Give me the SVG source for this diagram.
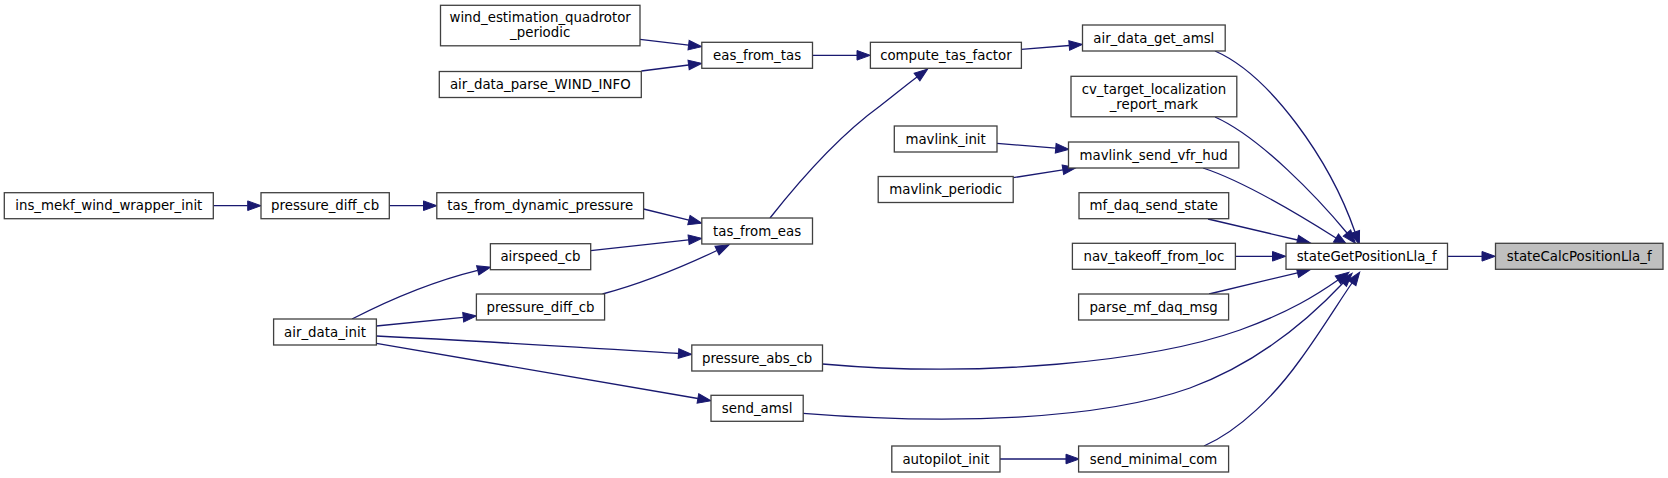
<svg xmlns="http://www.w3.org/2000/svg" width="1668" height="478" viewBox="0 0 1668 478">
<style>
.n rect{fill:#ffffff;stroke:#404040;stroke-width:1.3}
.n.root rect{fill:#bfbfbf}
.n text{font-family:"DejaVu Sans","Liberation Sans",sans-serif;font-size:13.33px;fill:#000;text-anchor:middle}
.e path{fill:none;stroke:#191970;stroke-width:1.3;marker-end:url(#ah)}
</style>
<defs>
<marker id="ah" markerUnits="userSpaceOnUse" markerWidth="14" markerHeight="12" refX="0" refY="0" viewBox="0 -6 14 12" orient="auto" overflow="visible">
<path d="M0,-4.8 L13.3,0 L0,4.8 Z" fill="#191970" stroke="#191970" stroke-width="1"/>
</marker>
</defs>
<rect width="1668" height="478" fill="#ffffff"/>
<g id="edges" class="e">
<path d="M1448,256.3 L1482,256.3"/>
<path d="M1215,51 C1270,75 1330,160 1355,232"/>
<path d="M1215,117 C1260,137 1318,198 1347,233"/>
<path d="M1203,168 C1240,180 1298,214 1336,238"/>
<path d="M1208,219 L1297.5,240"/>
<path d="M1235.5,256.3 L1272.5,256.3"/>
<path d="M1209,294 L1297.5,272.8"/>
<path d="M822.5,364 C980,378 1150,362 1240,330 C1290,312 1318,294 1338,280"/>
<path d="M803.2,413.3 C950,425 1100,420 1190,388 C1260,362 1312,316 1343,283"/>
<path d="M1204,446 C1240,430 1275,395 1300,360 C1322,330 1340,300 1352,283"/>
<path d="M1021.4,49.3 L1069.2,45.5"/>
<path d="M997,143.3 L1055.7,148.2"/>
<path d="M1013.2,177.7 L1062.9,169.8"/>
<path d="M1000,459 L1066,459"/>
<path d="M812.5,55.3 L857,55.3"/>
<path d="M770,218 C800,180 840,135 880,106 C893,96 905,86 917,77"/>
<path d="M376.4,336 C480,341 590,348 678.5,353.5"/>
<path d="M376.4,343.3 L697.9,398.5"/>
<path d="M640,39.3 L688.6,45.1"/>
<path d="M641.4,71 L688.6,65"/>
<path d="M643.6,209 L688.9,220.1"/>
<path d="M590.7,250.7 L688.6,239.8"/>
<path d="M602.5,294 C640,284 680,268 717,250.5"/>
<path d="M352,319 C385,302 430,282 477.7,270.3"/>
<path d="M376.4,326 L463.2,317.3"/>
<path d="M389.3,205.7 L423.5,205.7"/>
<path d="M213.3,205.7 L247.7,205.7"/>
</g>
<g id="stateCalcPositionLla_f" class="n root"><rect x="1495.5" y="243.3" width="167.5" height="26"/><text x="1579.2" y="261">stateCalcPositionLla_f</text></g>
<g id="stateGetPositionLla_f" class="n"><rect x="1286" y="243.3" width="161.5" height="26"/><text x="1366.7" y="261">stateGetPositionLla_f</text></g>
<g id="air_data_get_amsl" class="n"><rect x="1082.5" y="25" width="142.7" height="26"/><text x="1153.8" y="42.7">air_data_get_amsl</text></g>
<g id="cv_target_localization_report_mark" class="n"><rect x="1071" y="76.3" width="165.8" height="40.5"/><text x="1153.9" y="93.7">cv_target_localization</text><text x="1153.9" y="108.7">_report_mark</text></g>
<g id="mavlink_send_vfr_hud" class="n"><rect x="1068.5" y="142" width="170.3" height="26"/><text x="1153.6" y="159.7">mavlink_send_vfr_hud</text></g>
<g id="mf_daq_send_state" class="n"><rect x="1079" y="192.7" width="149.7" height="26"/><text x="1153.8" y="210.4">mf_daq_send_state</text></g>
<g id="nav_takeoff_from_loc" class="n"><rect x="1072.4" y="243.3" width="163" height="26"/><text x="1153.9" y="261">nav_takeoff_from_loc</text></g>
<g id="parse_mf_daq_msg" class="n"><rect x="1078.6" y="294" width="150" height="26"/><text x="1153.6" y="311.7">parse_mf_daq_msg</text></g>
<g id="send_minimal_com" class="n"><rect x="1078.6" y="446" width="150" height="26"/><text x="1153.6" y="463.7">send_minimal_com</text></g>
<g id="compute_tas_factor" class="n"><rect x="870.4" y="42.3" width="151" height="26"/><text x="945.9" y="60">compute_tas_factor</text></g>
<g id="mavlink_init" class="n"><rect x="894.3" y="126" width="102.7" height="26"/><text x="945.6" y="143.7">mavlink_init</text></g>
<g id="mavlink_periodic" class="n"><rect x="878.2" y="176.5" width="135" height="26"/><text x="945.7" y="194.2">mavlink_periodic</text></g>
<g id="autopilot_init" class="n"><rect x="891.8" y="446" width="108.2" height="26"/><text x="945.9" y="463.7">autopilot_init</text></g>
<g id="eas_from_tas" class="n"><rect x="701.8" y="42.3" width="110.7" height="26"/><text x="757.1" y="60">eas_from_tas</text></g>
<g id="tas_from_eas" class="n"><rect x="701.8" y="218" width="110.7" height="26"/><text x="757.1" y="235.7">tas_from_eas</text></g>
<g id="pressure_abs_cb" class="n"><rect x="691.8" y="345" width="130.7" height="26"/><text x="757.1" y="362.7">pressure_abs_cb</text></g>
<g id="send_amsl" class="n"><rect x="711" y="395.3" width="92.2" height="26"/><text x="757.1" y="413">send_amsl</text></g>
<g id="wind_estimation_quadrotor_periodic" class="n"><rect x="440.5" y="5.3" width="199.5" height="40.5"/><text x="540.2" y="22.3">wind_estimation_quadrotor</text><text x="540.2" y="37.3">_periodic</text></g>
<g id="air_data_parse_WIND_INFO" class="n"><rect x="439.3" y="71.5" width="202" height="26"/><text x="540.3" y="89.2">air_data_parse_WIND_INFO</text></g>
<g id="tas_from_dynamic_pressure" class="n"><rect x="436.8" y="192.7" width="206.8" height="26"/><text x="540.2" y="210.4">tas_from_dynamic_pressure</text></g>
<g id="airspeed_cb" class="n"><rect x="490.4" y="243.7" width="100.3" height="26"/><text x="540.5" y="261.4">airspeed_cb</text></g>
<g id="pressure_diff_cb_2" class="n"><rect x="476.4" y="294" width="128.2" height="26"/><text x="540.5" y="311.7">pressure_diff_cb</text></g>
<g id="pressure_diff_cb_1" class="n"><rect x="261" y="192.7" width="128.3" height="26"/><text x="325.1" y="210.4">pressure_diff_cb</text></g>
<g id="air_data_init" class="n"><rect x="273.6" y="319" width="102.8" height="26"/><text x="325" y="336.7">air_data_init</text></g>
<g id="ins_mekf_wind_wrapper_init" class="n"><rect x="4.3" y="192.7" width="209" height="26"/><text x="108.8" y="210.4">ins_mekf_wind_wrapper_init</text></g>
</svg>
